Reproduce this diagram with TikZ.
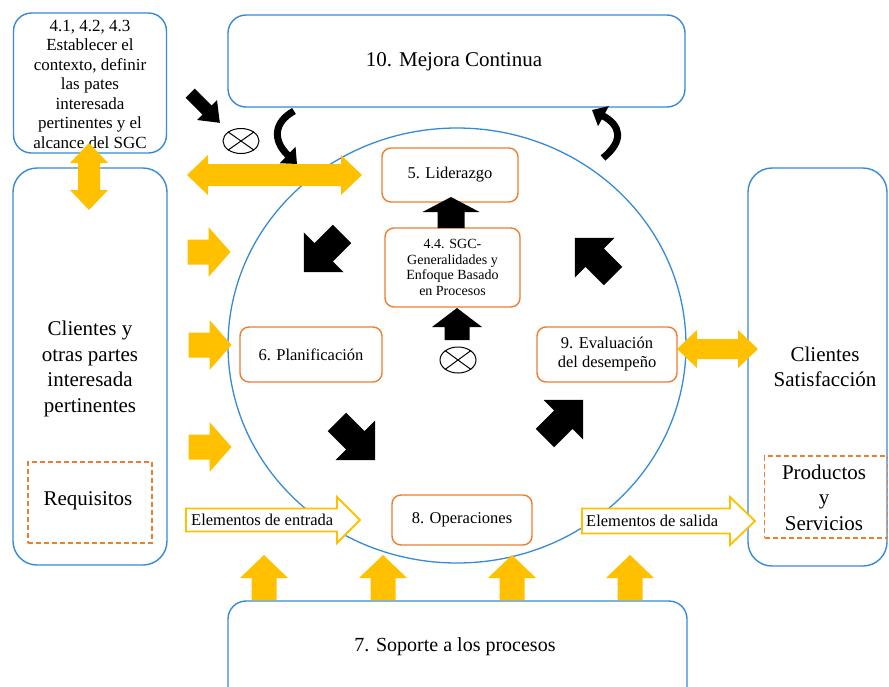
\documentclass[tikz,border=0pt]{standalone}
\usepackage{fontspec}
\setmainfont{Liberation Serif}
\usetikzlibrary{shapes.geometric,arrows.meta}
\definecolor{bblue}{RGB}{55,138,212}
\definecolor{oorange}{RGB}{237,125,49}
\definecolor{yyellow}{RGB}{255,192,0}
\newcommand{\FSz}[2]{\fontsize{#1}{#2}\selectfont}
% single block arrow: style, x, y, angle, length, shaft half width, head half width, head length
\newcommand{\BArrow}[8]{\path[#1,shift={(#2,#3)},rotate=#4]
  (-#5/2,-#6) -- (#5/2-#8,-#6) -- (#5/2-#8,-#7) -- (#5/2,0) -- (#5/2-#8,#7) -- (#5/2-#8,#6) -- (-#5/2,#6) -- cycle;}
% double block arrow
\newcommand{\DArrow}[8]{\path[#1,shift={(#2,#3)},rotate=#4]
  (-#5/2,0) -- (-#5/2+#8,-#7) -- (-#5/2+#8,-#6) -- (#5/2-#8,-#6) -- (#5/2-#8,-#7) -- (#5/2,0) --
  (#5/2-#8,#7) -- (#5/2-#8,#6) -- (-#5/2+#8,#6) -- (-#5/2+#8,#7) -- cycle;}
\begin{document}
\begin{tikzpicture}[x=1pt,y=-1pt,
  bluebox/.style={draw=bblue,line width=1.4pt,rounded corners=18pt,inner sep=0pt},
  obox/.style={draw=oorange,line width=1.4pt,rounded corners=9pt,fill=white,inner sep=0pt,align=center},
  dbox/.style={draw=oorange,line width=1.4pt,dash pattern=on 5pt off 3pt,inner sep=0pt},
  txt/.style={inner sep=0pt,align=center},
  otimes/.style={draw,ellipse,line width=1pt,inner sep=0pt},
  curvearrow/.style={line width=7pt,-{Triangle[width=22pt,length=13pt]}}]
\useasboundingbox (0,0) rectangle (889,686);

% circle
\node[draw=bblue,ellipse,line width=1.3pt,minimum width=458pt,minimum height=435pt,inner sep=0pt] (circ) at (457,345.5) {};

% blue boxes
\node[bluebox,minimum width=153pt,minimum height=140pt] (ctx) at (90,83) {};
\node[txt,font=\FSz{17}{19.5}] (ctxtxt) at (90,84) {4.1, 4.2, 4.3\\Establecer el\\contexto, definir\\las pates\\interesada\\pertinentes y el\\alcance del SGC};
\node[bluebox,minimum width=457pt,minimum height=92pt] (mej) at (456.5,61) {};
\node[txt,font=\FSz{21}{25}] (mejtxt) at (454,62) {10. Mejora Continua};
\node[bluebox,rounded corners=24pt,minimum width=154pt,minimum height=397pt] (cli) at (90,366.5) {};
\node[txt,font=\FSz{21}{25.7}] (clitxt) at (90,369) {Clientes y\\otras partes\\interesada\\pertinentes};
\node[dbox,minimum width=124pt,minimum height=81pt] (req) at (90,502.5) {};
\node[txt,font=\FSz{21}{25}] (reqtxt) at (88,501) {Requisitos};
\node[bluebox,rounded corners=24pt,minimum width=139pt,minimum height=398pt] (sat) at (817.5,367) {};
\node[txt,font=\FSz{21}{25}] (sattxt) at (825,367) {Clientes\\Satisfacción};
\node[dbox,minimum width=123pt,minimum height=82pt] (prod) at (826,497) {};
\node[txt,font=\FSz{21}{25.5}] (prodtxt) at (824,497.5) {Productos\\y\\Servicios};
\node[bluebox,minimum width=459pt,minimum height=119pt] (sop) at (457.5,660.5) {};
\node[txt,font=\FSz{20}{24}] (soptxt) at (455,647) {7. Soporte a los procesos};

% orange boxes
\node[obox,minimum width=136pt,minimum height=54pt,font=\FSz{16.5}{19}] (lid) at (450,175) {5. Liderazgo};
\node[obox,minimum width=135pt,minimum height=79pt,font=\FSz{14}{15.5}] (sgc) at (452.5,267.5) {4.4. SGC-\\Generalidades y\\Enfoque Basado\\en Procesos};
\node[obox,minimum width=142pt,minimum height=55pt,font=\FSz{16.5}{19}] (plan) at (311,354.5) {6. Planificación};
\node[obox,minimum width=140pt,minimum height=55pt,font=\FSz{16.5}{19}] (eval) at (607,354.5) {9. Evaluación\\del desempeño};
\node[obox,minimum width=140pt,minimum height=50pt,font=\FSz{16.5}{19}] (oper) at (462,520) {8. Operaciones};

% otimes symbols
\node[otimes,minimum width=36pt,minimum height=25pt] (ox1) at (241,141) {};
\draw[line width=1pt] (ox1.north east) -- (ox1.south west) (ox1.north west) -- (ox1.south east);
\node[otimes,minimum width=36pt,minimum height=26pt] (ox2) at (458,360) {};
\draw[line width=1pt] (ox2.north east) -- (ox2.south west) (ox2.north west) -- (ox2.south east);

% black block arrows
\BArrow{fill=black}{451}{212.5}{90}{31}{13.5}{28.5}{15}
\BArrow{fill=black}{457}{324}{90}{32}{12.5}{25}{19}
\BArrow{fill=black}{205}{108}{-45}{42}{6.5}{14}{18}
\BArrow{fill=black}{323}{253}{225}{54}{13}{28}{28}
\BArrow{fill=black}{356}{441}{-45}{54}{13}{28}{28}
\BArrow{fill=black}{564}{419}{45}{54}{13}{28}{28}
\BArrow{fill=black}{594}{257}{135}{54}{13}{28}{28}

% curved black arrows
\coordinate (c1a) at (294,111);
\coordinate (c1b) at (297,164);
\draw[curvearrow] (c1a) .. controls (274,122) and (272,140) .. (c1b);
\coordinate (c2a) at (603,158);
\coordinate (c2b) at (592,110);
\draw[curvearrow] (c2a) .. controls (625,140) and (620,125) .. (c2b);

% yellow arrows
\DArrow{fill=yyellow}{89}{176.5}{90}{67}{11}{19}{20}
\DArrow{fill=yyellow}{274.5}{175}{0}{175}{11}{20}{21}
\BArrow{fill=yyellow}{209}{252}{0}{43}{12.5}{25}{22}
\BArrow{fill=yyellow}{210}{345}{0}{43}{12.5}{25}{22}
\BArrow{fill=yyellow}{210}{447}{0}{43}{12.5}{25}{22}
\DArrow{fill=yyellow}{717.5}{349}{0}{81}{10}{19}{20}
\BArrow{fill=yyellow}{264}{577.5}{90}{45}{12.5}{24}{23}
\BArrow{fill=yyellow}{383}{577.5}{90}{45}{12.5}{24}{23}
\BArrow{fill=yyellow}{512}{577.5}{90}{45}{12.5}{24}{23}
\BArrow{fill=yyellow}{630}{577.5}{90}{45}{12.5}{24}{23}

% outline arrows
\BArrow{draw=yyellow,fill=white,line width=1.8pt}{273}{520}{0}{174}{11.5}{23}{23}
\node[txt,anchor=west,font=\FSz{16.5}{18}] (ein) at (191,520) {Elementos de entrada};
\BArrow{draw=yyellow,fill=white,line width=1.8pt}{668.5}{521}{0}{173}{12.5}{24}{25}
\node[txt,anchor=west,font=\FSz{16.5}{18}] (eout) at (586,521) {Elementos de salida};
\end{tikzpicture}
\end{document}
